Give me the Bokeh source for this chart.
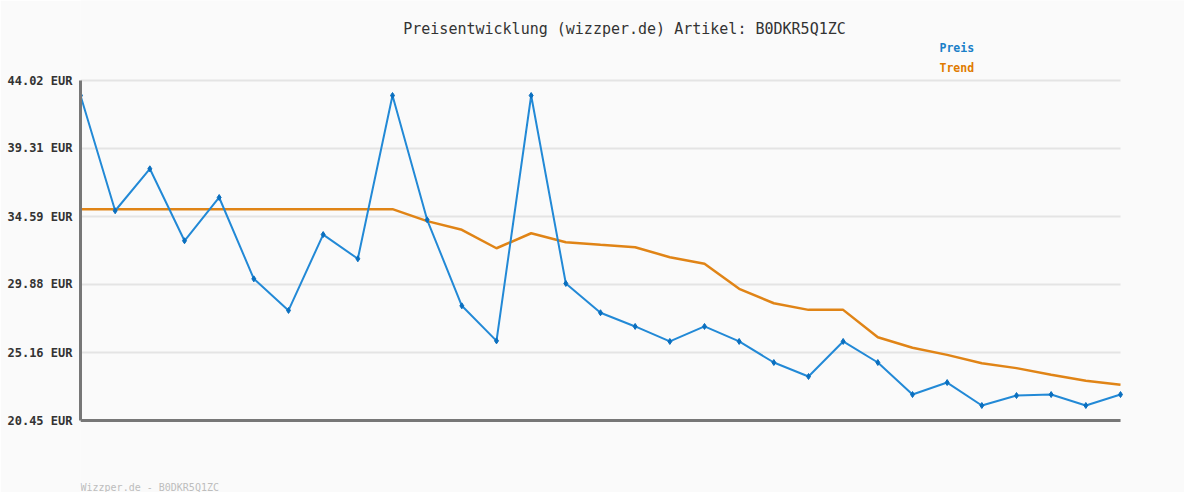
from bokeh.plotting import figure
from bokeh.models import FixedTicker, Label, Range1d
from bokeh.embed import file_html
from bokeh.resources import INLINE

# Data
idx = list(range(31))
preis = [42.98, 34.99, 37.90, 32.91, 35.91, 30.27, 28.08, 33.34, 31.66, 42.98,
         34.36, 28.40, 25.97, 42.98, 29.95, 27.92, 26.97, 25.93, 26.97, 25.93,
         24.47, 23.50, 25.93, 24.47, 22.25, 23.08, 21.49, 22.18, 22.25, 21.49, 22.25]
trend = [35.10, 35.10, 35.10, 35.10, 35.10, 35.10, 35.10, 35.10, 35.10, 35.10,
         34.27, 33.67, 32.39, 33.43, 32.81, 32.63, 32.46, 31.77, 31.31, 29.58,
         28.58, 28.12, 28.12, 26.22, 25.49, 25.00, 24.42, 24.08, 23.62, 23.20, 22.93]
y_ticks = [20.45, 25.16, 29.88, 34.59, 39.31, 44.02]
y_tick_labels = {t: f"{t:.2f} EUR" for t in y_ticks}
title_text = "Preisentwicklung (wizzper.de) Artikel: B0DKR5Q1ZC"
footer_text = "Wizzper.de - B0DKR5Q1ZC"

BG = "#fafafa"
MONO = "DejaVu Sans Mono"

# Layout (page pixels)
W, H = 1184, 492
PLOT_L, PLOT_R, PLOT_T, PLOT_B = 80, 1120, 80, 420
x_lo, x_hi = idx[0], idx[-1]
y_lo, y_hi = y_ticks[0], y_ticks[-1]
sx = (PLOT_R - PLOT_L) / (x_hi - x_lo)
sy = (PLOT_B - PLOT_T) / (y_hi - y_lo)

p = figure(width=W, height=H,
           x_range=Range1d(x_lo, x_hi + (W - PLOT_R) / sx),
           y_range=Range1d(y_lo - (H - PLOT_B) / sy, y_hi + PLOT_T / sy),
           output_backend="svg", toolbar_location=None,
           min_border_left=PLOT_L, min_border_right=0,
           min_border_top=0, min_border_bottom=0)
p.background_fill_color = BG
p.border_fill_color = BG
p.outline_line_color = None
p.xaxis.visible = False
p.xgrid.grid_line_color = None
p.ygrid.grid_line_color = None

# y axis
p.yaxis.ticker = FixedTicker(ticks=y_ticks)
p.yaxis.bounds = (y_lo, y_hi)
p.yaxis.major_label_overrides = y_tick_labels
p.yaxis.major_label_text_font = MONO
p.yaxis.major_label_text_font_style = "bold"
p.yaxis.major_label_text_font_size = "12px"
p.yaxis.major_label_text_color = "#333333"
p.yaxis.major_tick_line_color = None
p.yaxis.minor_tick_line_color = None
p.yaxis.major_label_standoff = 2
p.yaxis.axis_line_color = "#777777"
p.yaxis.axis_line_width = 3

# horizontal grid lines at the ticks
p.segment(x0=[x_lo] * len(y_ticks), y0=y_ticks, x1=[x_hi] * len(y_ticks), y1=y_ticks,
          line_color="#e4e4e4", line_width=2)
# bottom axis line
p.segment(x0=[x_lo], y0=[y_lo], x1=[x_hi], y1=[y_lo], line_color="#777777", line_width=3)

# lines
p.line(idx, trend, line_color="#e08416", line_width=2.5)
p.line(idx, preis, line_color="#2289d6", line_width=2)
p.scatter(idx, preis, marker="diamond", size=6, color="#0a6fbf")

def page_label(px, py, text, **kw):
    return Label(x=x_lo + (px - PLOT_L) / sx, y=y_hi - (py - PLOT_T) / sy,
                 text=text, text_font=MONO, text_baseline="middle", **kw)

p.add_layout(page_label(624, 28, title_text, text_font_size="15px",
                        text_color="#333333", text_align="center"))
p.add_layout(page_label(939, 47, "Preis", text_font_style="bold",
                        text_font_size="11.5px", text_color="#1a7fc8"))
p.add_layout(page_label(939, 67, "Trend", text_font_style="bold",
                        text_font_size="11.5px", text_color="#e07b00"))
p.add_layout(page_label(80, 487, footer_text, text_font_size="10px",
                        text_color="#bdbdbd"))

open("out.html", "w").write(file_html(p, INLINE))
